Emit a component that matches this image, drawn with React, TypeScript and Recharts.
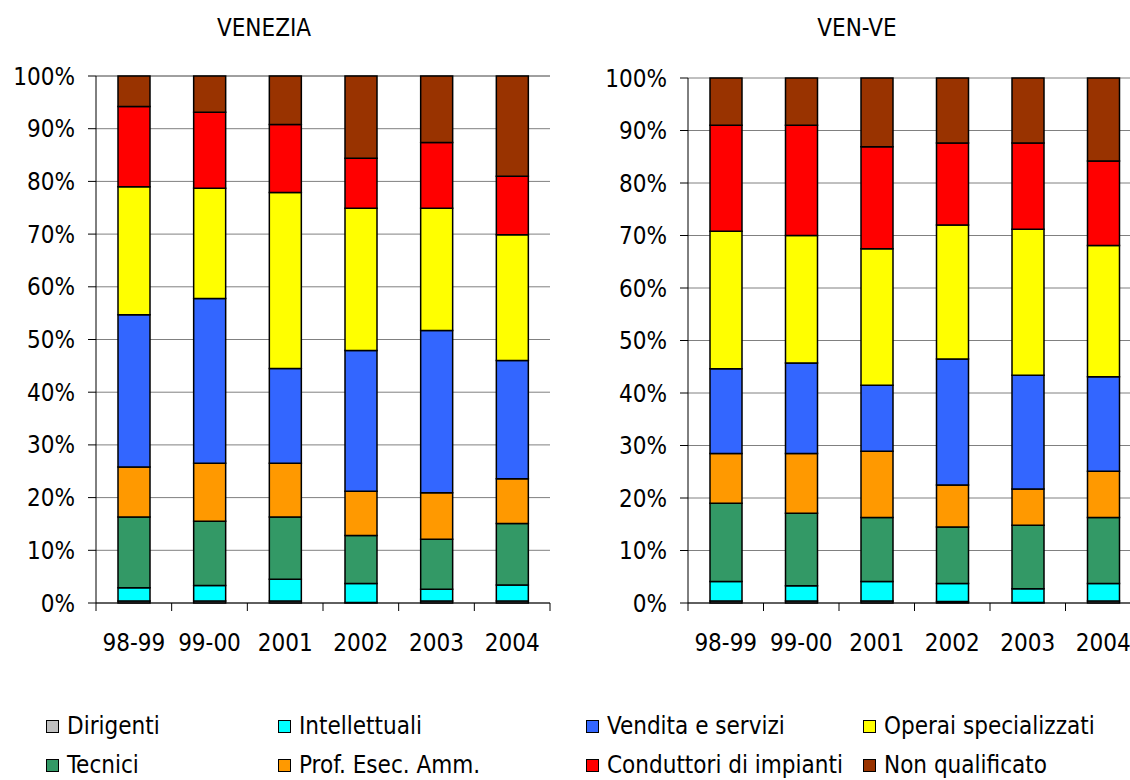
import { BarChart, Bar, XAxis, YAxis, CartesianGrid } from 'recharts';

const categories = ['98-99', '99-00', '2001', '2002', '2003', '2004'];
const yTicks = [0, 10, 20, 30, 40, 50, 60, 70, 80, 90, 100];

const seriesNames = [
  'Dirigenti',
  'Intellettuali',
  'Tecnici',
  'Prof. Esec. Amm.',
  'Vendita e servizi',
  'Operai specializzati',
  'Conduttori di impianti',
  'Non qualificato',
];
const seriesColors = ['#C0C0C0', '#00FFFF', '#339966', '#FF9900', '#3366FF', '#FFFF00', '#FF0000', '#993300'];

// VENEZIA (%)
const veDirigenti = [0.4, 0.4, 0.4, 0.1, 0.4, 0.4];
const veIntellettuali = [2.5, 2.9, 4.1, 3.6, 2.2, 3.0];
const veTecnici = [13.4, 12.2, 11.8, 9.1, 9.5, 11.7];
const veProf = [9.5, 11.0, 10.2, 8.4, 8.8, 8.5];
const veVendita = [28.9, 31.3, 18.0, 26.7, 30.8, 22.4];
const veOperai = [24.3, 20.9, 33.4, 27.0, 23.2, 23.9];
const veConduttori = [15.2, 14.4, 12.9, 9.5, 12.5, 11.1];
const veNonQual = [5.8, 6.9, 9.2, 15.6, 12.6, 19.0];

// VEN-VE (%)
const vvDirigenti = [0.4, 0.4, 0.4, 0.3, 0.1, 0.4];
const vvIntellettuali = [3.7, 2.9, 3.7, 3.4, 2.6, 3.3];
const vvTecnici = [14.9, 13.8, 12.2, 10.8, 12.1, 12.6];
const vvProf = [9.5, 11.4, 12.6, 8.0, 6.9, 8.8];
const vvVendita = [16.1, 17.2, 12.6, 24.0, 21.7, 18.0];
const vvOperai = [26.2, 24.3, 26.0, 25.5, 27.8, 25.0];
const vvConduttori = [20.2, 21.0, 19.4, 15.6, 16.4, 16.1];
const vvNonQual = [9.0, 9.0, 13.1, 12.4, 12.4, 15.8];

const FONT = '"DejaVu Sans Condensed", "DejaVu Sans", sans-serif';
const FS = 24;

const buildRows = (cols: number[][]) =>
  categories.map((name, i) => {
    const row: Record<string, string | number> = { name };
    seriesNames.forEach((s, k) => {
      row[s] = cols[k][i];
    });
    return row;
  });

const veneziaData = buildRows([veDirigenti, veIntellettuali, veTecnici, veProf, veVendita, veOperai, veConduttori, veNonQual]);
const venveData = buildRows([vvDirigenti, vvIntellettuali, vvTecnici, vvProf, vvVendita, vvOperai, vvConduttori, vvNonQual]);

const Y_AXIS_W = 96;

type PanelProps = {
  data: Record<string, string | number>[];
  width: number;
  top: number;
  right: number;
};

const Panel = ({ data, width, top, right }: PanelProps) => {
  const height = 680;
  const bottom = 37;
  const band = (width - Y_AXIS_W - right) / categories.length;

  // x ticks sit on the category boundaries, labels in the middle
  const renderTick = (props: any) => {
    const { x, y, payload, index } = props;
    return (
      <g>
        <line x1={x - band / 2} x2={x - band / 2} y1={y} y2={y + 8} stroke="#000" />
        {index === categories.length - 1 && (
          <line x1={x + band / 2} x2={x + band / 2} y1={y} y2={y + 8} stroke="#000" />
        )}
        <text x={x} y={y + 48} textAnchor="middle" fontSize={FS} fontFamily={FONT} fill="#000">
          {payload.value}
        </text>
      </g>
    );
  };

  return (
    <BarChart width={width} height={height} data={data} margin={{ top, right, bottom, left: 0 }} barSize={32}>
      <CartesianGrid vertical={false} stroke="#808080" />
      <XAxis
        dataKey="name"
        height={40}
        tickLine={false}
        tickSize={0}
        tickMargin={0}
        axisLine={{ stroke: '#000' }}
        tick={renderTick}
        interval={0}
      />
      <YAxis
        type="number"
        domain={[0, 100]}
        ticks={yTicks}
        interval={0}
        width={Y_AXIS_W}
        tickFormatter={(v: number) => `${v}%`}
        tickSize={8}
        tickMargin={13}
        axisLine={{ stroke: '#000' }}
        tickLine={{ stroke: '#000' }}
        tick={{ fontSize: FS, fontFamily: FONT, fill: '#000' }}
      />
      {seriesNames.map((s, k) => (
        <Bar
          key={s}
          dataKey={s}
          stackId="a"
          fill={seriesColors[k]}
          stroke="#000"
          strokeWidth={1.5}
          isAnimationActive={false}
        />
      ))}
    </BarChart>
  );
};

const legendCols = [46, 278, 586, 863];
const legendRows = [726, 765];
// legend order as in the picture: row by row
const legendOrder = [0, 1, 4, 5, 2, 3, 6, 7];

const Legend2 = () => (
  <>
    {legendOrder.map((k, pos) => (
      <div
        key={k}
        style={{
          position: 'absolute',
          left: legendCols[pos % 4],
          top: legendRows[Math.floor(pos / 4)] - 14,
          height: 28,
          display: 'flex',
          alignItems: 'center',
          whiteSpace: 'nowrap',
        }}
      >
        <div
          style={{
            width: 11,
            height: 11,
            border: '1.5px solid #000',
            background: seriesColors[k],
            marginRight: 8,
          }}
        />
        <span style={{ fontSize: FS, lineHeight: '28px', fontFamily: FONT, color: '#000' }}>{seriesNames[k]}</span>
      </div>
    ))}
  </>
);

export default function App() {
  return (
    <div
      style={{
        position: 'absolute',
        left: 0,
        top: 0,
        width: 1130,
        height: 780,
        overflow: 'hidden',
        background: '#fff',
        fontFamily: FONT,
      }}
    >
      <div style={{ position: 'absolute', left: 164, top: 14, width: 200, textAlign: 'center', fontSize: FS, lineHeight: '28px' }}>
        VENEZIA
      </div>
      <div style={{ position: 'absolute', left: 757, top: 14, width: 200, textAlign: 'center', fontSize: FS, lineHeight: '28px' }}>
        VEN-VE
      </div>
      <div style={{ position: 'absolute', left: 0, top: 0 }}>
        <Panel data={veneziaData} width={580} top={76} right={30} />
      </div>
      <div style={{ position: 'absolute', left: 592, top: 0 }}>
        <Panel data={venveData} width={549} top={78} right={0} />
      </div>
      <Legend2 />
    </div>
  );
}
